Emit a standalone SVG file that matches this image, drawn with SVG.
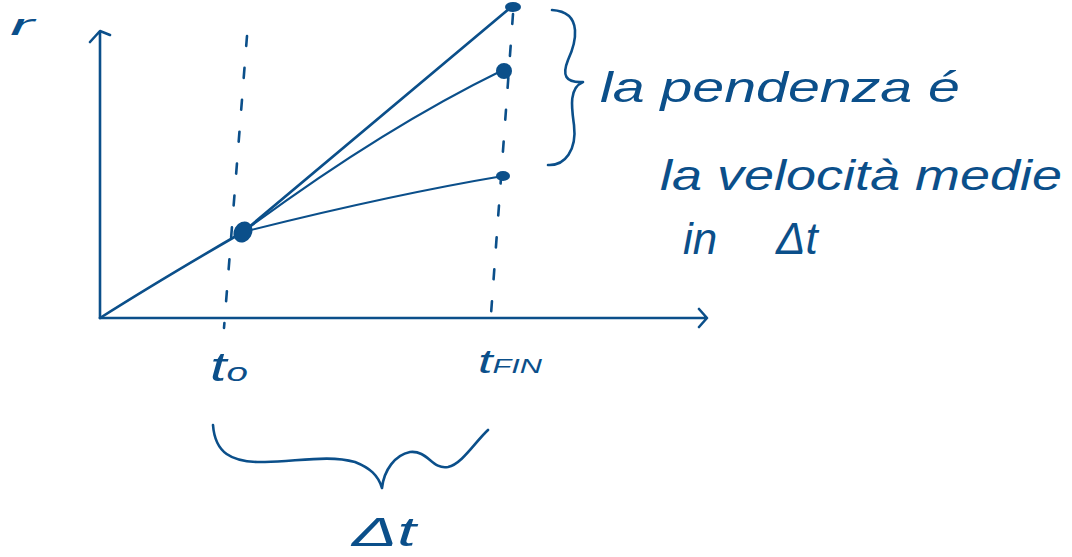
<svg xmlns="http://www.w3.org/2000/svg" width="1072" height="557" viewBox="0 0 1072 557">
<style>
.s{fill:none;stroke:#0b4f8a;stroke-width:2.6;stroke-linecap:round;stroke-linejoin:round}
.t{stroke-width:2}
.d{stroke-dasharray:10 22}
.dot{fill:#0b4f8a}
text{fill:#0b4f8a;font-family:"Liberation Sans","DejaVu Sans",sans-serif;font-style:italic}
</style>
<rect width="1072" height="557" fill="#ffffff"/>
<g id="axes">
<path class="s" d="M100,318 L100,32 M90,42 L100,31 L110,35"/>
<path class="s" d="M100,318 L706,318 M699,309 L707,318 L699,327"/>
<text x="10" y="35" font-size="30" textLength="24" lengthAdjust="spacingAndGlyphs">r</text>
</g>
<g id="guides">
<path class="s d" d="M247,36 L224,328"/>
<path class="s d" d="M513,14 L490,328"/>
</g>
<g id="connectors">
<path class="s" d="M100,318 Q160,280 243,232"/>
<path class="s" d="M243,232 L510,8"/>
<path class="s t" d="M243,232 Q380,130 503,70"/>
<path class="s t" d="M243,232 Q390,195 503,176"/>
</g>
<g id="points">
<ellipse class="dot" cx="243" cy="232" rx="9" ry="11" transform="rotate(30 243 232)"/>
<ellipse class="dot" cx="513" cy="7" rx="8" ry="5"/>
<ellipse class="dot" cx="504" cy="71" rx="8" ry="8"/>
<ellipse class="dot" cx="503" cy="176" rx="7" ry="5"/>
</g>
<g id="brace-right">
<path class="s" d="M552,10 C585,12 575,45 568,60 C562,75 565,83 583,82 C568,88 572,110 574,125 C577,150 565,166 548,165"/>
</g>
<g id="label-slope">
<text x="600" y="102" font-size="42" textLength="360" lengthAdjust="spacingAndGlyphs">la pendenza é</text>
<text x="660" y="190" font-size="42" textLength="402" lengthAdjust="spacingAndGlyphs">la velocità medie</text>
<text y="254" font-size="44"><tspan x="683">in</tspan><tspan x="776">Δt</tspan></text>
</g>
<g id="ticks">
<text x="210" y="381" font-size="40" textLength="38" lengthAdjust="spacingAndGlyphs">t<tspan font-size="26">o</tspan></text>
<text x="478" y="373" font-size="34" textLength="64" lengthAdjust="spacingAndGlyphs">t<tspan font-size="20">FIN</tspan></text>
</g>
<g id="brace-bottom">
<path class="s" d="M213,425 C215,452 230,463 265,462 C300,461 330,455 355,462 C370,468 378,475 382,488 C384,470 395,455 410,452 C428,450 432,470 448,467 C462,464 475,442 488,430"/>
<text x="352" y="546" font-size="40" textLength="64" lengthAdjust="spacingAndGlyphs">Δt</text>
</g>
</svg>
